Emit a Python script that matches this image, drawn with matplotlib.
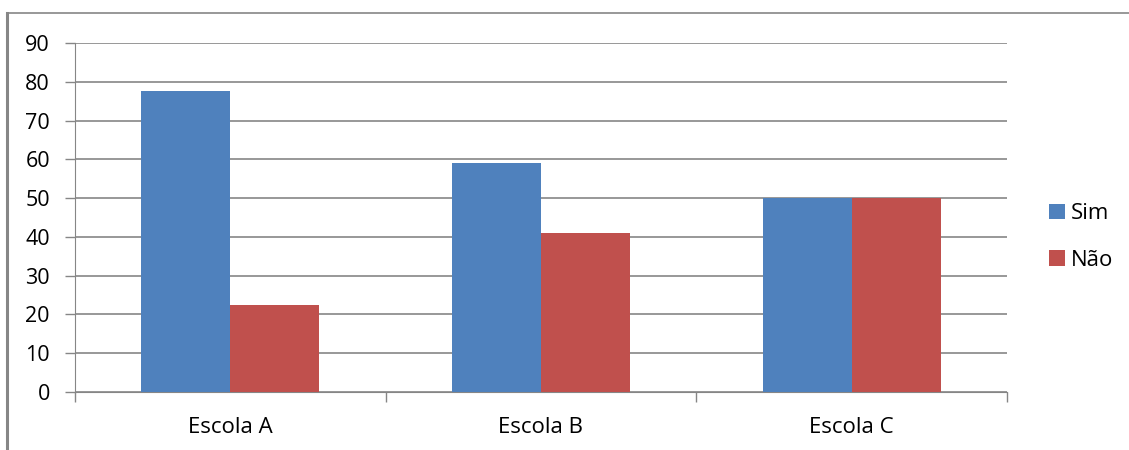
import matplotlib.pyplot as plt
import numpy as np
from matplotlib.lines import Line2D

escolas = ['Escola A', 'Escola B', 'Escola C']
sim = [77.5, 59, 50]
nao = [22.5, 41, 50]

plt.rcParams['font.family'] = ['Open Sans', 'DejaVu Sans']

fig = plt.figure(figsize=(11.29, 4.5), dpi=100)
ax = fig.add_axes([75 / 1129, 1 - 392 / 450, (1007 - 75) / 1129, (392 - 43) / 450])

x = np.arange(len(escolas))
w = 0.286
ax.bar(x - w / 2, sim, w, color='#4F81BD', label='Sim', zorder=3)
ax.bar(x + w / 2, nao, w, color='#C0504D', label='Não', zorder=3)

ax.set_xlim(-0.5, len(escolas) - 0.5)
ax.set_ylim(0, 90)
ax.set_yticks(range(0, 91, 10))
ax.yaxis.grid(True, color='#868686', linewidth=1.2, zorder=0)

# category labels centred, tick marks between categories
ax.set_xticks(x)
ax.set_xticklabels(escolas, fontsize=16)
ax.tick_params(axis='x', length=0, pad=18)
ax.set_xticks(np.arange(-0.5, len(escolas)), minor=True)
ax.tick_params(axis='x', which='minor', length=7, color='#868686', width=1)
ax.tick_params(axis='y', length=7, color='#868686', width=1, labelsize=15.5, pad=11)

for s in ['top', 'right']:
    ax.spines[s].set_visible(False)
ax.spines['left'].set_color('#868686')
ax.spines['bottom'].set_color('#868686')

fig.legend(*ax.get_legend_handles_labels(), loc='center left',
           bbox_to_anchor=(1049 / 1129, 1 - 237 / 450), frameon=False,
           fontsize=16, handlelength=0.72, handleheight=0.72, handletextpad=0.25,
           labelspacing=1.15, borderpad=0, borderaxespad=0)

# outer chart border
fig.add_artist(Line2D([7 / 1129, 7 / 1129], [0, 1 - 13 / 450],
                      transform=fig.transFigure, color='#868686', linewidth=2.2))
fig.add_artist(Line2D([7 / 1129, 1], [1 - 13 / 450, 1 - 13 / 450],
                      transform=fig.transFigure, color='#868686', linewidth=1.2))

fig.savefig('out.png', dpi=100)
